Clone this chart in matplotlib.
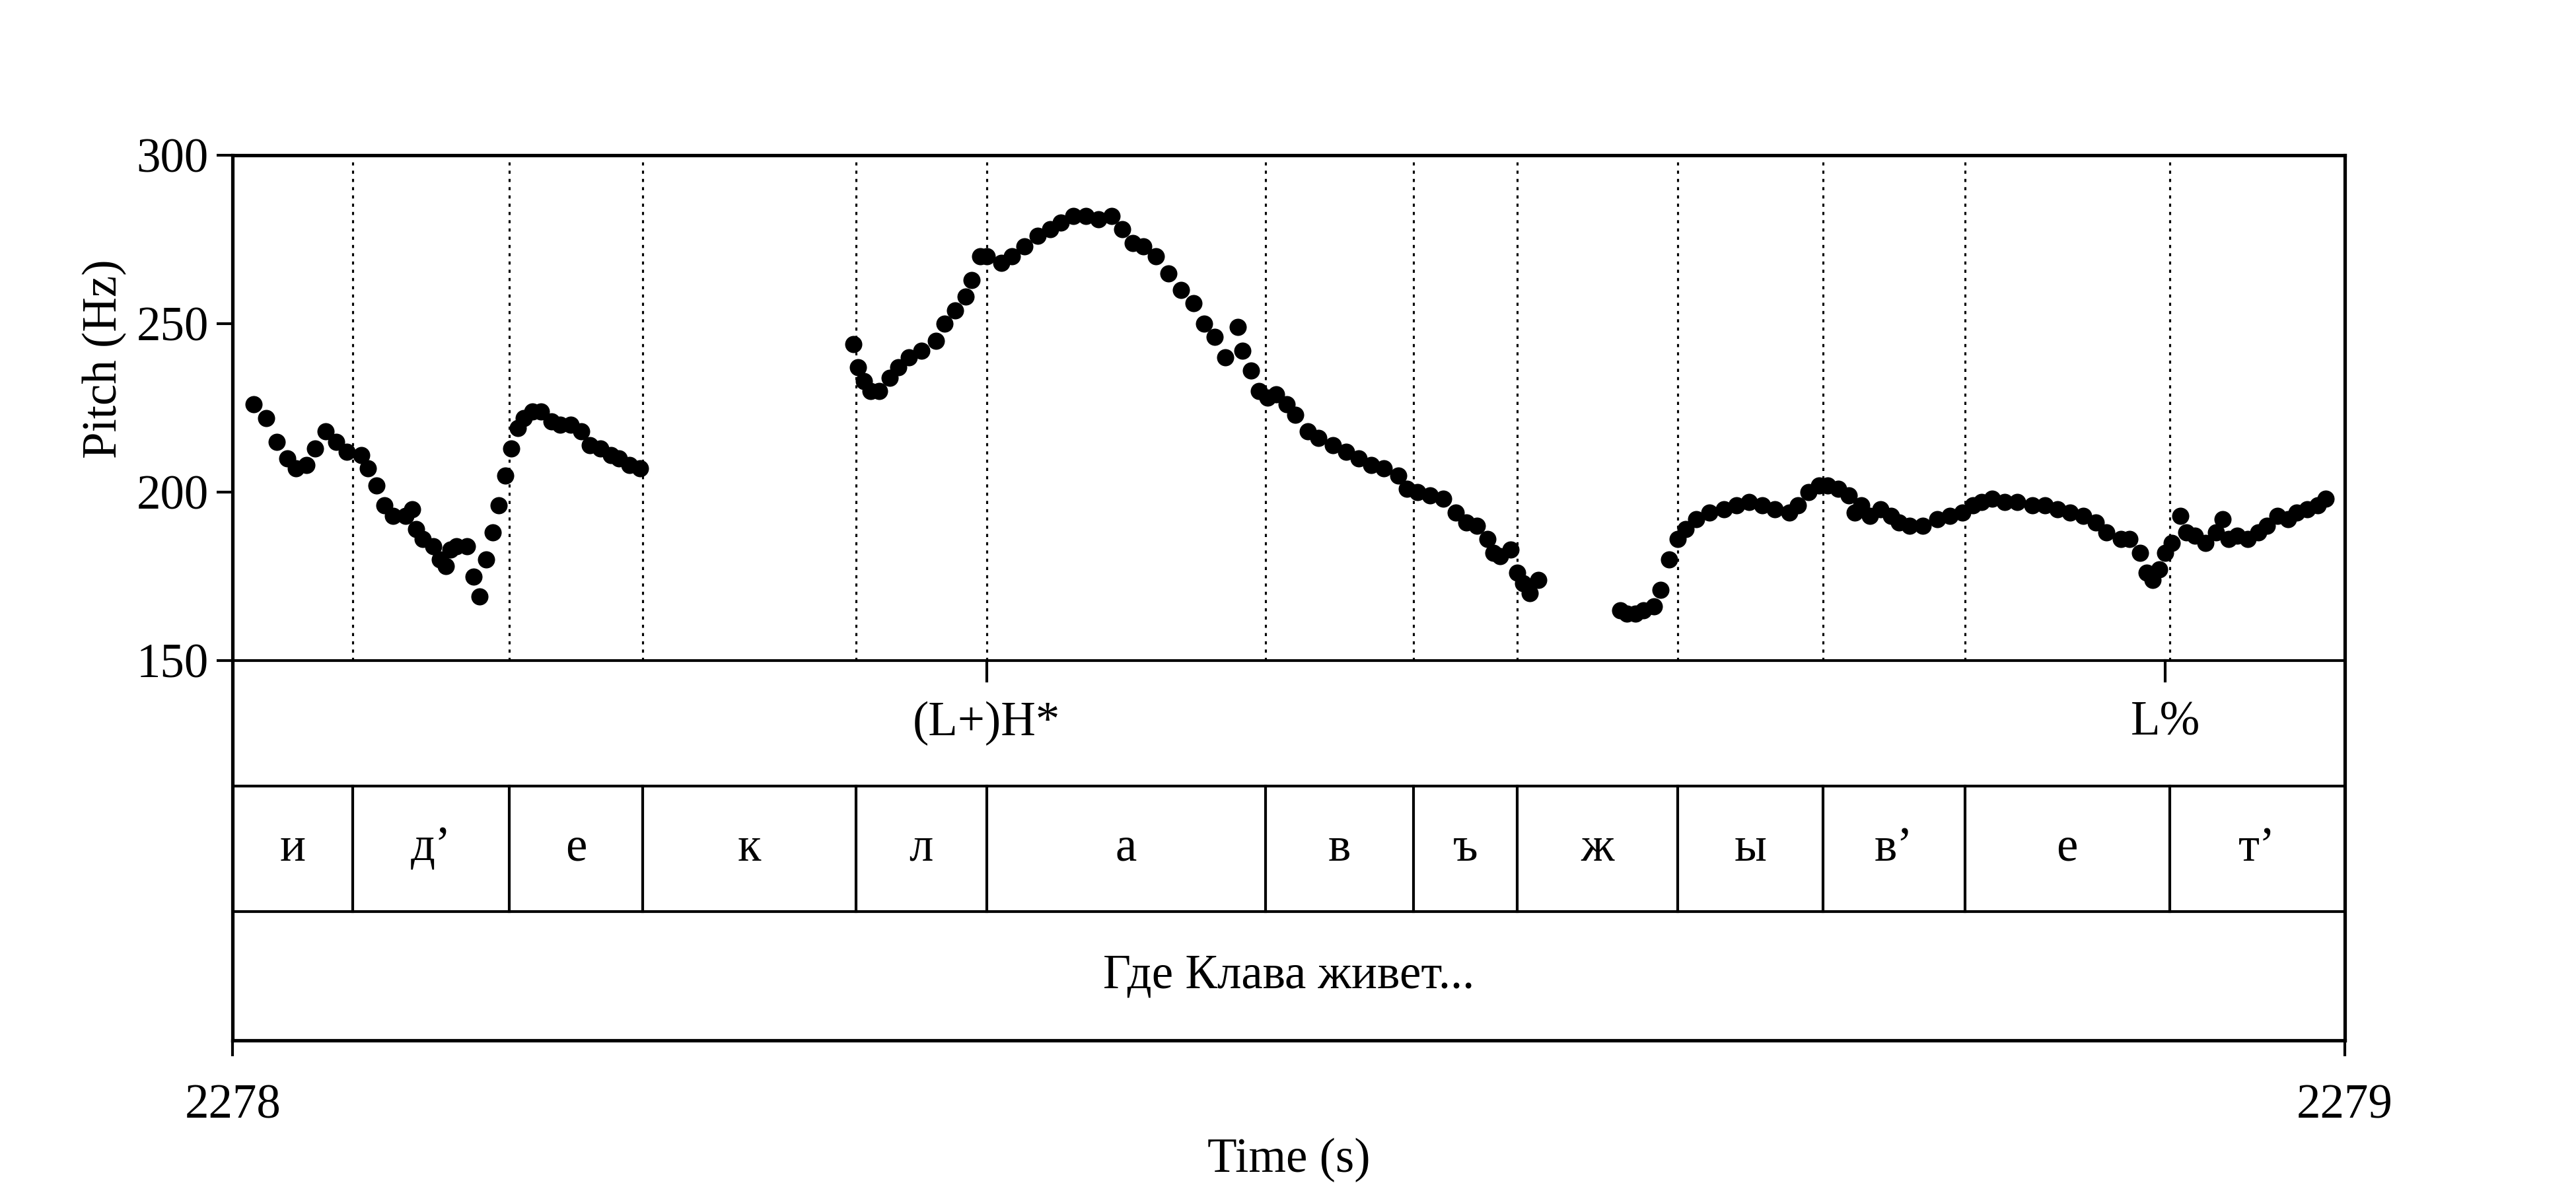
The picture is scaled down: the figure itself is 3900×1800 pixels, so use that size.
import matplotlib
matplotlib.use("Agg")
import matplotlib.pyplot as plt

plt.rcParams['font.family'] = ['Liberation Serif', 'DejaVu Serif']

t0 = 2278.0
# pitch segments: time offset (ms) and pitch (Hz)
seg1_ms = [10,16,21,26,30,35,39,44,49,54,61,64,68,72,76,82,85,87,90,95,98,101,103,106,111,114,117,120,123,126,129,132,135,138,142,146,151,155,160,165,169,174,179,183,188,193]
seg1_hz = [226,222,215,210,207,208,213,218,215,212,211,207,202,196,193,193,195,189,186,184,180,178,183,184,184,175,169,180,188,196,205,213,219,222,224,224,221,220,220,218,214,213,211,210,208,207]
seg2_ms = [294,296,299,302,306,311,315,320,326,333,337,342,347,350,354,357,364,369,375,381,387,392,398,404,410,416,421,426,431,437,443,449,455,460,465,470,476,478,482,486,490,494,499,503,509,514,521,527,533,539,545,552,556,561,567,573,579,584,589,594,597,600,605,608,611,614,618]
seg2_hz = [244,237,233,230,230,234,237,240,242,245,250,254,258,263,270,270,268,270,273,276,278,280,282,282,281,282,278,274,273,270,265,260,256,250,246,240,249,242,236,230,228,229,226,223,218,216,214,212,210,208,207,205,201,200,199,198,194,191,190,186,182,181,183,176,173,170,174]
seg3_ms = [657,660,664,668,673,676,680,684,688,693,699,706,712,718,724,730,737,741,746,751,755,760,765,768,771,775,780,785,789,794,800,807,813,819,824,828,833,839,845,852,858,864,870,876,882,887,894,898,903,906,909,912,915,918,922,925,929,934,939,942,945,949,954,959,963,968,973,977,982,987,991]
seg3_hz = [165,164,164,165,166,171,180,186,189,192,194,195,196,197,196,195,194,196,200,202,202,201,199,194,196,193,195,193,191,190,190,192,193,194,196,197,198,197,197,196,196,195,194,193,191,188,186,186,182,176,174,177,182,185,193,188,187,185,188,192,186,187,186,188,190,193,192,194,195,196,198]

seg_bounds_ms = [0,57,131,194,295,357,489,559,608,684,753,820,917,1000]
seg_labels = ["и","д’","е","к","л","а","в","ъ","ж","ы","в’","е","т’"]
tone_ms = [357,915]
tone_labels = ["(L+)H*","L%"]
sentence = "Где Клава живет..."
yticks = [150,200,250,300]

k = 306/150
ybot = 150 - 230/k
ytier1 = 150 - 76/k
ytier2 = 150 - 152/k

fig = plt.figure(figsize=(15.6,7.2), dpi=250)
ax = fig.add_axes([0.0903,0.125,0.8200,0.7444])
ax.set_xlim(t0, t0+1)
ax.set_ylim(ybot, 300)
fs = 21

for ms, hz in [(seg1_ms,seg1_hz),(seg2_ms,seg2_hz),(seg3_ms,seg3_hz)]:
    ax.plot([t0+m/1000 for m in ms], hz, 'o', color='black', ms=7.5, mec='none')

for b in seg_bounds_ms[1:-1]:
    x = t0+b/1000
    ax.plot([x,x],[150,300], color='black', lw=0.9, ls=(0,(1.5,2.5)))
    ax.plot([x,x],[ytier2,ytier1], color='black', lw=1.2)
for i,l in enumerate(seg_labels):
    xc = t0+(seg_bounds_ms[i]+seg_bounds_ms[i+1])/2000
    ax.text(xc, (ytier1+ytier2)/2, l, ha='center', va='center', fontsize=fs)

for y in [150, ytier1, ytier2]:
    ax.axhline(y, color='black', lw=1.2)
for m,l in zip(tone_ms,tone_labels):
    x = t0+m/1000
    ax.plot([x,x],[150,144], color='black', lw=1.2)
    ax.text(x, (150+ytier1)/2, l, ha='center', va='center', fontsize=fs)
ax.text(t0+0.5, (ytier2+ybot)/2, sentence, ha='center', va='center', fontsize=fs)

ax.set_yticks(yticks)
ax.set_yticklabels([str(v) for v in yticks], fontsize=fs)
ax.set_xticks([t0, t0+1])
ax.set_xticklabels(["2278","2279"], fontsize=fs)
ax.tick_params(length=7, width=1.2)
ax.tick_params(axis='x', pad=12)
ax.set_xlabel("Time (s)", fontsize=fs, labelpad=4)
ax.set_ylabel("Pitch (Hz)", fontsize=fs, y=0.77)
for s in ax.spines.values():
    s.set_linewidth(1.5)
fig.savefig("out.png", dpi=250)
